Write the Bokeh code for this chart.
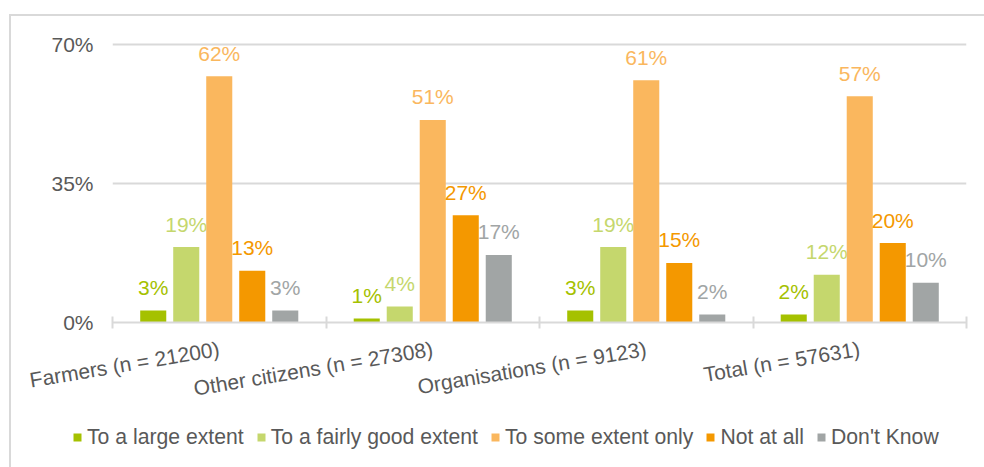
import math
from bokeh.plotting import figure
from bokeh.layouts import column
from bokeh.models import (Range1d, FixedTicker, CustomJSTickFormatter, Legend, LegendItem,
                          InlineStyleSheet)
from bokeh.embed import file_html
from bokeh.resources import INLINE
from bokeh.core.properties import value

categories = ["Farmers (n = 21200)", "Other citizens (n = 27308)",
              "Organisations (n = 9123)", "Total (n = 57631)"]
series = ["To a large extent", "To a fairly good extent", "To some extent only",
          "Not at all", "Don't Know"]
large_extent = [3, 1, 3, 2]
fairly_good = [19, 4, 19, 12]
some_extent = [62, 51, 61, 57]
not_at_all = [13, 27, 15, 20]
dont_know = [3, 17, 2, 10]
values = [large_extent, fairly_good, some_extent, not_at_all, dont_know]
colors = ["#A5C100", "#C5D76D", "#FAB75E", "#F49800", "#A1A5A5"]
y_ticks = [0, 35, 70]

FONT = "Liberation Sans"
TXT = "#595959"
GRID = "#D9D9D9"

CH = 420  # chart height
px_per_unit = 278 / 70
y_end = 70 + 12 / px_per_unit

p = figure(width=984, height=CH, x_range=Range1d(0, len(categories)),
           y_range=Range1d(0, y_end), output_backend="svg", toolbar_location=None,
           min_border_left=112, min_border_right=18, min_border_top=32,
           min_border_bottom=CH - 322)
p.frame_align = False
p.outline_line_color = None
p.background_fill_color = None
p.border_fill_color = None

# x axis
xa = p.xaxis[0]
xa.ticker = FixedTicker(ticks=[i + 0.5 for i in range(len(categories))],
                        minor_ticks=list(range(len(categories) + 1)))
xa.formatter = CustomJSTickFormatter(args=dict(labels=categories),
                                     code="return labels[Math.floor(tick)];")
xa.major_tick_in = 0
xa.major_tick_out = 0
xa.minor_tick_in = 6
xa.minor_tick_out = 6
xa.minor_tick_line_color = GRID
xa.minor_tick_line_width = 2
xa.axis_line_color = GRID
xa.axis_line_width = 2
xa.major_label_orientation = 9.5 * math.pi / 180
xa.major_label_text_font = FONT
xa.major_label_text_font_size = "21px"
xa.major_label_text_color = TXT
xa.major_label_standoff = 20

# y axis
ya = p.yaxis[0]
ya.ticker = FixedTicker(ticks=y_ticks)
ya.major_label_overrides = {t: f"{t}%" for t in y_ticks}
ya.axis_line_color = None
ya.major_tick_line_color = None
ya.minor_tick_line_color = None
ya.major_label_text_font = FONT
ya.major_label_text_font_size = "21px"
ya.major_label_text_color = TXT
ya.major_label_standoff = 13

p.xgrid.grid_line_color = None
p.ygrid.ticker = FixedTicker(ticks=[35, 70])
p.ygrid.grid_line_color = GRID
p.ygrid.grid_line_width = 2

step = 0.1546
bw = 0.122
for j, (name, vals, col) in enumerate(zip(series, values, colors)):
    xs = [i + 0.5 + (j - 2) * step for i in range(len(categories))]
    p.vbar(x=xs, top=vals, width=bw, bottom=0, fill_color=col, line_color=None)
    p.text(x=xs, y=vals, text=[f"{v}%" for v in vals], text_align="center",
           text_baseline="alphabetic", y_offset=-23, text_color=col,
           text_font=value(FONT), text_font_size="21px")

# legend strip: zero-width bars outside its y range, so only the legend shows
LH = 467 - CH
lg = figure(width=984, height=LH, x_range=Range1d(0, len(categories)),
            y_range=Range1d(-1000, -999), output_backend="svg", toolbar_location=None,
            x_axis_location=None, y_axis_location=None,
            min_border_left=0, min_border_right=0, min_border_top=0, min_border_bottom=0)
lg.frame_align = False
lg.grid.grid_line_color = None
lg.outline_line_color = None
lg.background_fill_color = None
lg.border_fill_color = None
legend_renderers = []
for j, (vals, col) in enumerate(zip(values, colors)):
    xs = [i + 0.5 + (j - 2) * step for i in range(len(categories))]
    legend_renderers.append(lg.vbar(x=xs, top=vals, bottom=0, width=0,
                                    fill_color=col, line_color=None))

legend = Legend(items=[LegendItem(label=s, renderers=[r])
                       for s, r in zip(series, legend_renderers)],
                orientation="horizontal", location=(72, 18))
legend.glyph_width = 10
legend.glyph_height = 10
legend.label_standoff = 5
legend.spacing = 12
legend.padding = 0
legend.margin = 0
legend.border_line_color = None
legend.background_fill_alpha = 0
legend.label_text_font = FONT
legend.label_text_font_size = "21.2px"
legend.label_text_color = TXT
legend.label_height = 20
lg.add_layout(legend, "center")

layout = column(p, lg, spacing=0)
layout.stylesheets = [InlineStyleSheet(css=(
    ":host { position: relative; background: white; } "
    ":host::after { content: ''; position: absolute; left: 9px; top: 14px; "
    "right: 0; bottom: 0; border-top: 2px solid #D9D9D9; "
    "border-left: 2px solid #D9D9D9; pointer-events: none; }"))]

open("out.html", "w").write(file_html(layout, INLINE))
